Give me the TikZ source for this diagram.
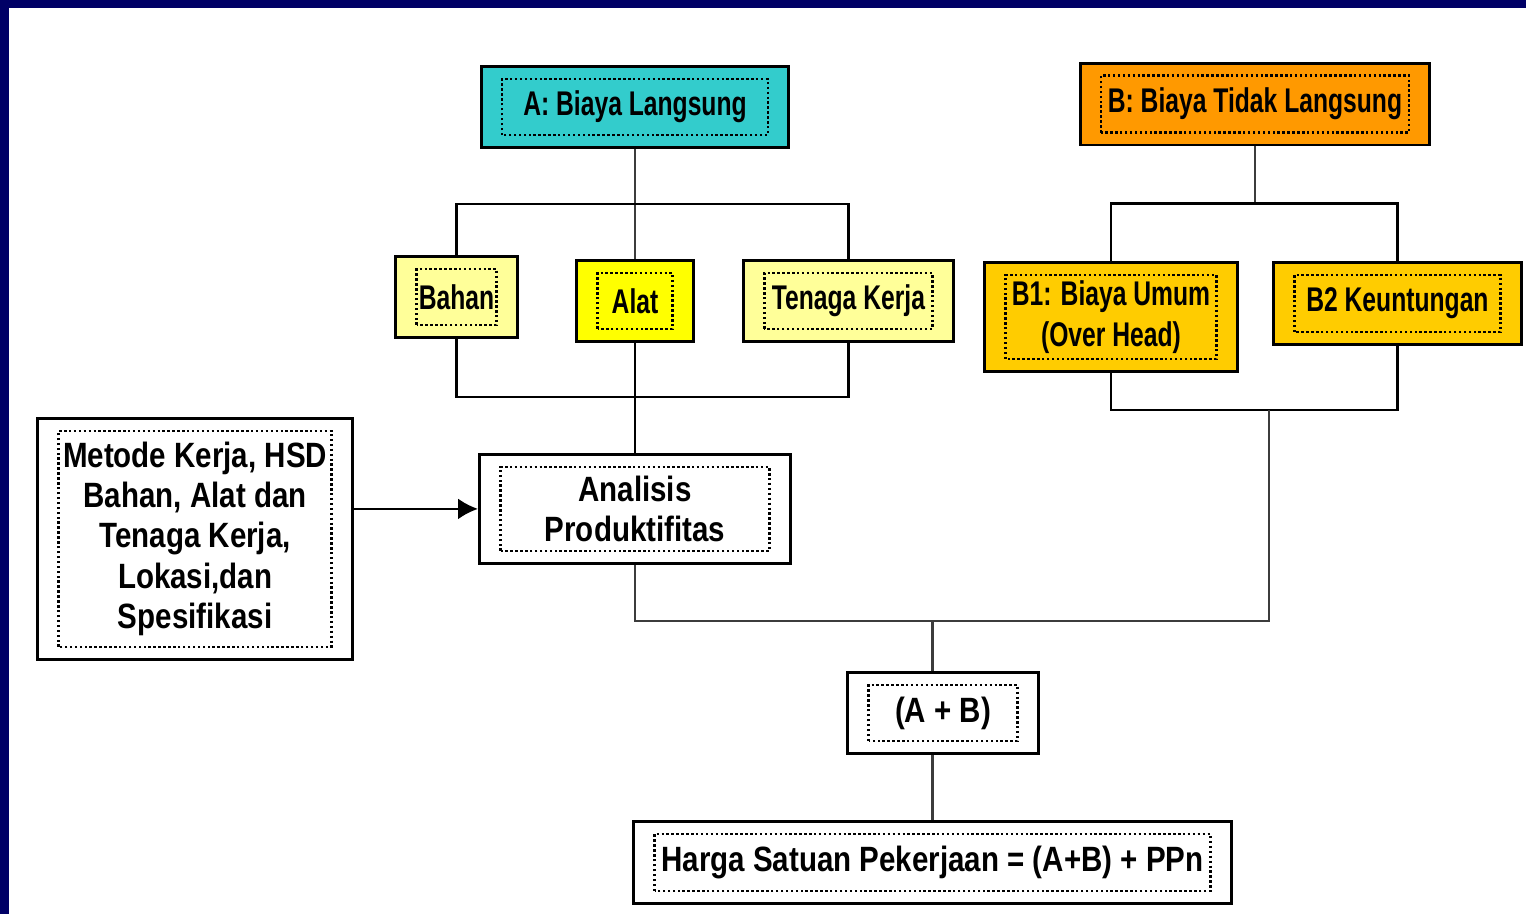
\documentclass[tikz,border=0pt]{standalone}
\usepackage{fontspec}
\usepackage{xcolor}
\usetikzlibrary{arrows.meta,positioning}
\newfontfamily\tightfont{Liberation Sans}[FakeStretch=0.72]
\newfontfamily\widefont{Liberation Sans}[FakeStretch=0.84]
\definecolor{hsnavy}{HTML}{000066}
\definecolor{hscyan}{HTML}{33CCCC}
\definecolor{hsorange}{HTML}{FF9900}
\definecolor{hspale}{HTML}{FFFF99}
\definecolor{hsyellow}{HTML}{FFFF00}
\definecolor{hsgold}{HTML}{FFCC00}
\definecolor{hsgray}{HTML}{3C3C3C}

\begin{document}
\begin{tikzpicture}[
 x=0.02cm, y=-0.02cm,
 >={Latex[length=0.4cm,width=0.42cm]},
 box/.style={draw,line width=1.7pt,minimum height=1.62cm,align=center,inner sep=0pt,
  font=\widefont\bfseries\fontsize{20}{23}\selectfont,
  path picture={\draw[line width=1.4pt,dash pattern=on 1.4pt off 1.4pt]
   ([shift={(0.42cm,0.25cm)}]path picture bounding box.south west) rectangle
   ([shift={(-0.42cm,-0.25cm)}]path picture bounding box.north east);}},
 tight/.style={font=\tightfont\bfseries\fontsize{19.5}{23}\selectfont},
 link/.style={line width=1.5pt},
 glink/.style={line width=1.5pt,draw=hsgray}
]
% frame
\fill[hsnavy] (0,0) rectangle (1526,914);
\fill[white] (9,8) rectangle (1526,914);

% direct costs
\node[box,tight,fill=hscyan,minimum width=6.16cm] (langsung) at (635,107) {A: Biaya Langsung};
\node[box,tight,fill=hsyellow,minimum width=2.34cm,below=2.2cm of langsung] (alat) {Alat};
\node[box,tight,fill=hspale,minimum width=2.44cm,left=1.12cm of alat,yshift=0.08cm] (bahan) {Bahan};
\node[box,tight,fill=hspale,minimum width=4.2cm,right=0.94cm of alat] (tenaga) {Tenaga Kerja};
\node[box,minimum width=6.22cm,minimum height=2.18cm,below=2.2cm of alat] (analisis) {Analisis\\Produktifitas};
\node[box,minimum width=6.3cm,minimum height=4.82cm,left=2.48cm of analisis,yshift=-0.6cm] (metode)
 {Metode Kerja, HSD\\Bahan, Alat dan\\Tenaga Kerja,\\Lokasi,dan\\Spesifikasi};

% indirect costs
\node[box,tight,fill=hsorange,minimum width=7cm,minimum height=1.64cm] (tdklangsung) at (1255,104) {B: Biaya Tidak Langsung};
\node[box,tight,fill=hsgold,minimum width=5.06cm,minimum height=2.18cm,anchor=north] (umum) at (1111,261)
 {B1: Biaya Umum\\(Over Head)};
\node[box,tight,fill=hsgold,minimum width=4.96cm,minimum height=1.64cm,right=0.66cm of umum.north east,anchor=north west] (untung)
 {B2 Keuntungan};

% totals
\node[box,minimum width=3.82cm] (jumlah) at (943,713) {(A + B)};
\node[box,minimum width=11.96cm,minimum height=1.64cm,below=1.3cm of jumlah,xshift=-0.21cm] (harga)
 {Harga Satuan Pekerjaan = (A+B) + PPn};

% connectors
\draw[glink] (langsung.south) -- (alat.north);
\draw[link] (bahan.north) |- ([yshift=-1.1cm]langsung.south) -| (tenaga.north);
\draw[link] (bahan.south) |- ([yshift=1.12cm]analisis.north) -| (tenaga.south);
\draw[link] (alat.south) -- (analisis.north);
\draw[->,link] (metode.east |- analisis.west) -- (analisis.west);

\draw[glink] (tdklangsung.south) -- ([yshift=-1.14cm]tdklangsung.south);
\draw[link] (umum.north) |- ([yshift=-1.14cm]tdklangsung.south) -| (untung.north);
\coordinate (bbot) at ([yshift=-0.74cm]umum.south);
\coordinate (bdrop) at ([xshift=3.16cm]bbot);
\draw[link] (umum.south) -- (bbot) -| (untung.south);

\coordinate (join) at ([yshift=-1.12cm]analisis.south);
\draw[glink] (analisis.south) -- (join) -| (bdrop);
\draw[glink] (jumlah.north -| harga.north) -- (harga.north |- join);
\draw[glink] (jumlah.south -| harga.north) -- (harga.north);
\end{tikzpicture}
\end{document}
